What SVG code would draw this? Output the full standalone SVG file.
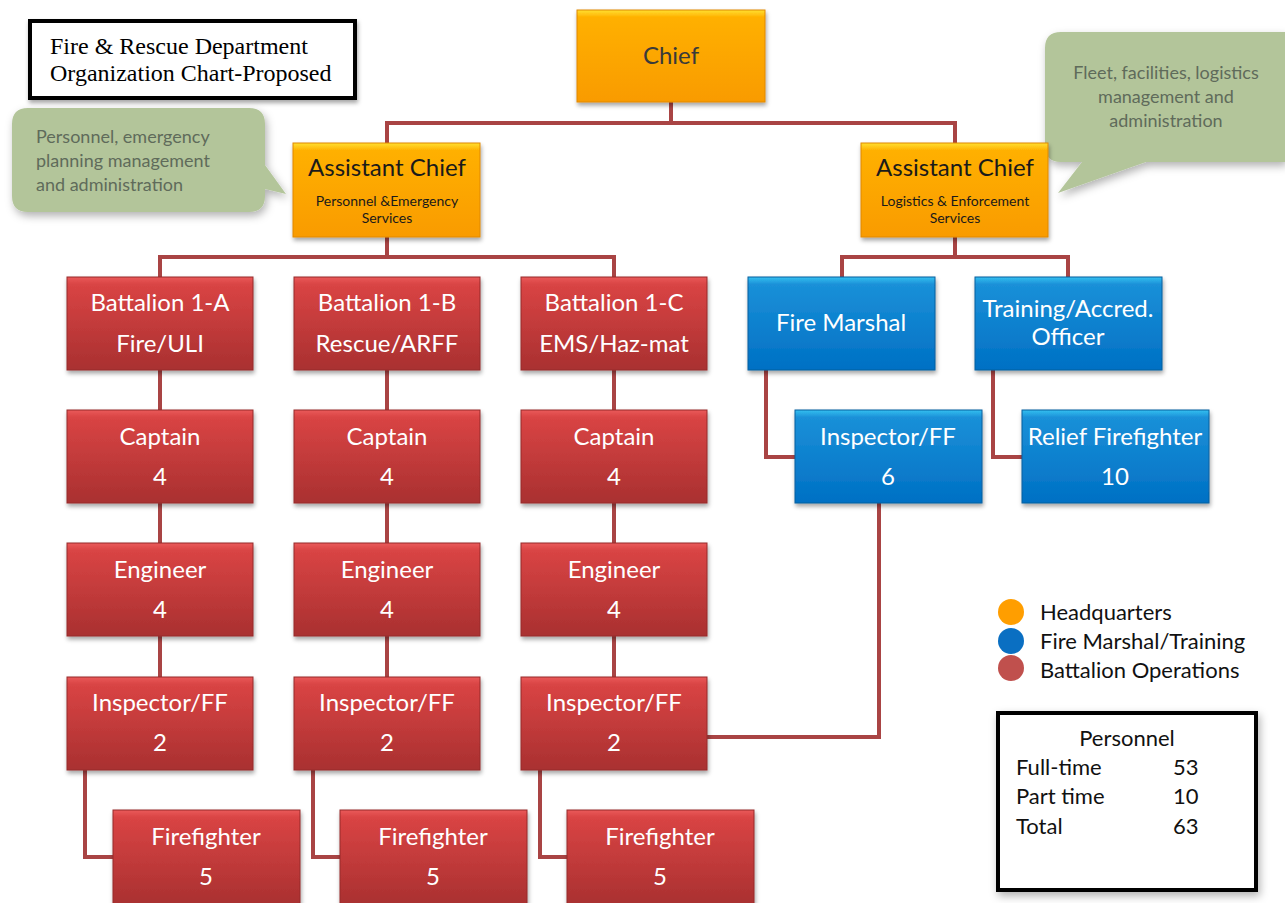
<svg xmlns="http://www.w3.org/2000/svg" width="1285" height="903" viewBox="0 0 1285 903">
<defs>
<linearGradient id="gO" x1="0" y1="0" x2="0" y2="1"><stop offset="0" stop-color="#ffe030"/><stop offset="0.08" stop-color="#ffb000"/><stop offset="1" stop-color="#f99b00"/></linearGradient>
<linearGradient id="gR" x1="0" y1="0" x2="0" y2="1"><stop offset="0" stop-color="#ea5a5a"/><stop offset="0.08" stop-color="#d94444"/><stop offset="1" stop-color="#a93030"/></linearGradient>
<linearGradient id="gB" x1="0" y1="0" x2="0" y2="1"><stop offset="0" stop-color="#35c0f0"/><stop offset="0.08" stop-color="#1a90d8"/><stop offset="1" stop-color="#0070c4"/></linearGradient>
<filter id="sh" x="-10%" y="-10%" width="130%" height="130%"><feDropShadow dx="1" dy="3" stdDeviation="2" flood-color="#000" flood-opacity="0.35"/></filter>
<filter id="sh2" x="-10%" y="-10%" width="130%" height="130%"><feDropShadow dx="2" dy="4" stdDeviation="4" flood-color="#000" flood-opacity="0.3"/></filter>
</defs>
<style>
.o{fill:url(#gO);stroke:#e08800;stroke-width:1;filter:url(#sh)}
.r{fill:url(#gR);stroke:#962a2a;stroke-width:1;filter:url(#sh)}
.b{fill:url(#gB);stroke:#0a5e9e;stroke-width:1;filter:url(#sh)}
.t{font-family:Lato,"Open Sans",sans-serif;text-anchor:middle}
.w{fill:#fff;font-size:24px}
.k{fill:#1a1a1a}
.c{fill:none;stroke:#a94444;stroke-width:4}
.call{fill:#b3c59a;filter:url(#sh2)}
.ct{font-family:Lato,"Open Sans",sans-serif;font-size:18px;fill:#5f6b5a}
.lg{font-family:Lato,"Open Sans",sans-serif;font-size:22px;fill:#111}
</style>
<rect width="1285" height="903" fill="#fff"/>

<g id="connectors">
<path class="c" d="M671,102V123M387,143V123H955V143"/>
<path class="c" d="M387,237V257M160,277V257H614V277"/>
<path class="c" d="M955,237V257M842,277V257H1068V277"/>
<path class="c" d="M160,370V677M387,370V677M614,370V677"/>
<path class="c" d="M85,770V857H113M313,770V857H340M540,770V857H567"/>
<path class="c" d="M766,370V457H795M993,370V457H1022"/>
<path class="c" d="M879,503V737H707"/>
</g>

<g id="title">
<rect x="30" y="21" width="325" height="77" fill="#fff" stroke="#000" stroke-width="4" filter="url(#sh)"/>
<text x="50" y="54" font-family="Liberation Serif,serif" font-size="24" fill="#000">Fire &amp; Rescue Department</text>
<text x="50" y="81" font-family="Liberation Serif,serif" font-size="24" fill="#000">Organization Chart-Proposed</text>
</g>

<g id="callout-left">
<path class="call" d="M28,108H249Q265,108 265,124V165L286,194L265,189V196Q265,212 249,212H28Q12,212 12,196V124Q12,108 28,108Z"/>
<text class="ct" x="36" y="143">Personnel, emergency</text>
<text class="ct" x="36" y="167">planning management</text>
<text class="ct" x="36" y="191">and administration</text>
</g>

<g id="callout-right">
<path class="call" d="M1061,32H1285V162H1146L1058,193L1082,162H1061Q1045,162 1045,146V48Q1045,32 1061,32Z"/>
<text class="ct" x="1166" y="79" text-anchor="middle">Fleet, facilities, logistics</text>
<text class="ct" x="1166" y="103" text-anchor="middle">management and</text>
<text class="ct" x="1166" y="127" text-anchor="middle">administration</text>
</g>

<g id="chief"><rect class="o" x="577" y="10" width="188" height="92"/><text class="t" x="671" y="64" font-size="24" fill="#3a3a3a">Chief</text></g>

<g id="asst-left"><rect class="o" x="293" y="143" width="187" height="94"/>
<text class="t k" x="387" y="176" font-size="24">Assistant Chief</text>
<text class="t k" x="387" y="206" font-size="14">Personnel &amp;Emergency</text>
<text class="t k" x="387" y="223" font-size="14">Services</text></g>

<g id="asst-right"><rect class="o" x="861" y="143" width="187" height="94"/>
<text class="t k" x="955" y="176" font-size="24">Assistant Chief</text>
<text class="t k" x="955" y="206" font-size="14">Logistics &amp; Enforcement</text>
<text class="t k" x="955" y="223" font-size="14">Services</text></g>

<g id="bat-a"><rect class="r" x="67" y="277" width="186" height="93"/><text class="t w" x="160" y="311">Battalion 1-A</text><text class="t w" x="160" y="352">Fire/ULI</text></g>
<g id="bat-b"><rect class="r" x="294" y="277" width="186" height="93"/><text class="t w" x="387" y="311">Battalion 1-B</text><text class="t w" x="387" y="352">Rescue/ARFF</text></g>
<g id="bat-c"><rect class="r" x="521" y="277" width="186" height="93"/><text class="t w" x="614" y="311">Battalion 1-C</text><text class="t w" x="614" y="352">EMS/Haz-mat</text></g>

<g id="cap-a"><rect class="r" x="67" y="410" width="186" height="93"/><text class="t w" x="160" y="445">Captain</text><text class="t w" x="160" y="485">4</text></g>
<g id="cap-b"><rect class="r" x="294" y="410" width="186" height="93"/><text class="t w" x="387" y="445">Captain</text><text class="t w" x="387" y="485">4</text></g>
<g id="cap-c"><rect class="r" x="521" y="410" width="186" height="93"/><text class="t w" x="614" y="445">Captain</text><text class="t w" x="614" y="485">4</text></g>

<g id="eng-a"><rect class="r" x="67" y="543" width="186" height="93"/><text class="t w" x="160" y="578">Engineer</text><text class="t w" x="160" y="618">4</text></g>
<g id="eng-b"><rect class="r" x="294" y="543" width="186" height="93"/><text class="t w" x="387" y="578">Engineer</text><text class="t w" x="387" y="618">4</text></g>
<g id="eng-c"><rect class="r" x="521" y="543" width="186" height="93"/><text class="t w" x="614" y="578">Engineer</text><text class="t w" x="614" y="618">4</text></g>

<g id="insp-a"><rect class="r" x="67" y="677" width="186" height="93"/><text class="t w" x="160" y="711">Inspector/FF</text><text class="t w" x="160" y="751">2</text></g>
<g id="insp-b"><rect class="r" x="294" y="677" width="186" height="93"/><text class="t w" x="387" y="711">Inspector/FF</text><text class="t w" x="387" y="751">2</text></g>
<g id="insp-c"><rect class="r" x="521" y="677" width="186" height="93"/><text class="t w" x="614" y="711">Inspector/FF</text><text class="t w" x="614" y="751">2</text></g>

<g id="ff-a"><rect class="r" x="113" y="810" width="187" height="95"/><text class="t w" x="206" y="845">Firefighter</text><text class="t w" x="206" y="885">5</text></g>
<g id="ff-b"><rect class="r" x="340" y="810" width="187" height="95"/><text class="t w" x="433" y="845">Firefighter</text><text class="t w" x="433" y="885">5</text></g>
<g id="ff-c"><rect class="r" x="567" y="810" width="187" height="95"/><text class="t w" x="660" y="845">Firefighter</text><text class="t w" x="660" y="885">5</text></g>

<g id="fire-marshal"><rect class="b" x="748" y="277" width="187" height="93"/><text class="t w" x="841" y="331">Fire Marshal</text></g>
<g id="training"><rect class="b" x="975" y="277" width="187" height="93"/><text class="t w" x="1068" y="317">Training/Accred.</text><text class="t w" x="1068" y="345">Officer</text></g>
<g id="insp-fm"><rect class="b" x="795" y="410" width="187" height="93"/><text class="t w" x="888" y="445">Inspector/FF</text><text class="t w" x="888" y="485">6</text></g>
<g id="relief"><rect class="b" x="1022" y="410" width="187" height="93"/><text class="t w" x="1115" y="445">Relief Firefighter</text><text class="t w" x="1115" y="485">10</text></g>

<g id="legend">
<circle cx="1011" cy="612" r="13" fill="#ff9e00"/>
<circle cx="1011" cy="641" r="13" fill="#0a6fc2"/>
<circle cx="1011" cy="668" r="13" fill="#c0504d"/>
<text class="lg" x="1040" y="620">Headquarters</text>
<text class="lg" x="1040" y="649">Fire Marshal/Training</text>
<text class="lg" x="1040" y="678">Battalion Operations</text>
</g>

<g id="personnel">
<rect x="998" y="713" width="258" height="177" fill="#fff" stroke="#000" stroke-width="4" filter="url(#sh2)"/>
<text class="lg" x="1127" y="746" text-anchor="middle">Personnel</text>
<text class="lg" x="1016" y="775">Full-time</text><text class="lg" x="1173" y="775">53</text>
<text class="lg" x="1016" y="804">Part time</text><text class="lg" x="1173" y="804">10</text>
<text class="lg" x="1016" y="834">Total</text><text class="lg" x="1173" y="834">63</text>
</g>
</svg>
